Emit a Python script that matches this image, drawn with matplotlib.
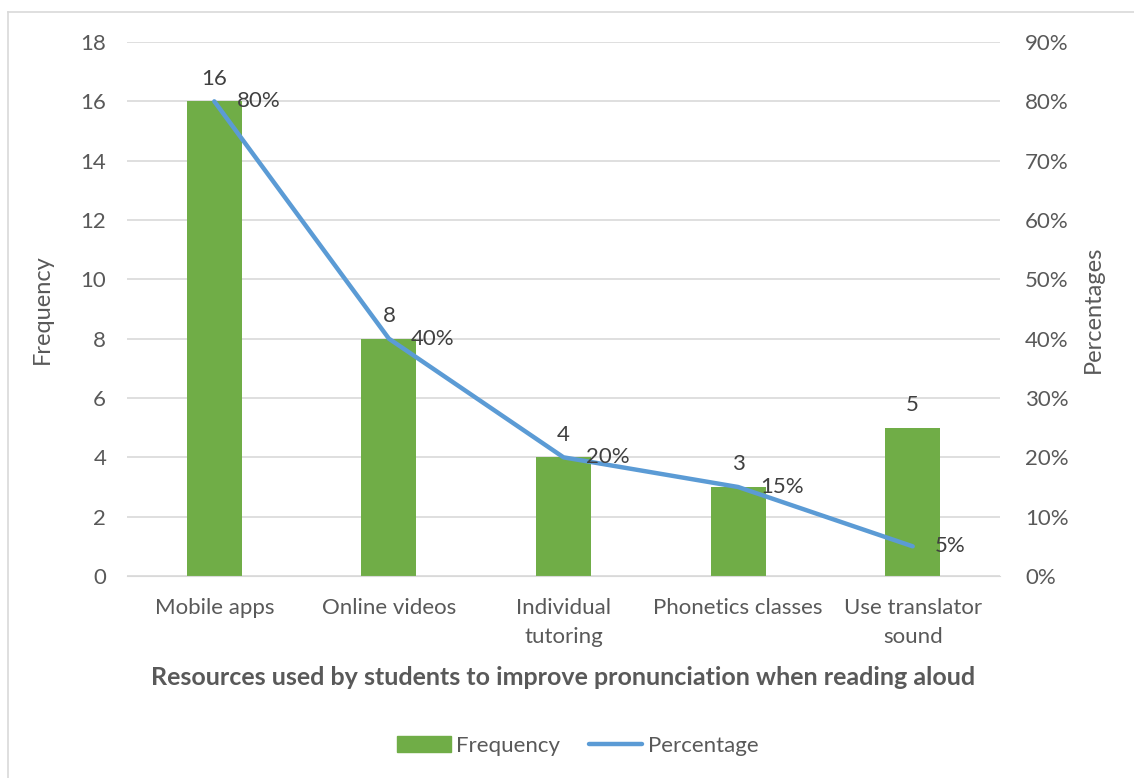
import matplotlib.pyplot as plt
import numpy as np
from matplotlib.lines import Line2D

# chart data
categories = ['Mobile apps', 'Online videos', 'Individual\ntutoring', 'Phonetics classes', 'Use translator\nsound']
frequency = [16, 8, 4, 3, 5]
percentage = [80, 40, 20, 15, 5]

plt.rcParams['font.family'] = ['Lato', 'DejaVu Sans']
text_col = '#595959'
bar_col = '#70ad47'
line_col = '#5b9bd5'
grid_col = '#d9d9d9'

fig = plt.figure(figsize=(11.34, 7.78), dpi=100)
ax = fig.add_axes([127/1134, 1 - 576/778, 873/1134, 534/778])
ax2 = ax.twinx()

x = np.arange(len(categories))
ax.bar(x, frequency, width=0.315, color=bar_col, zorder=2)
ax2.plot(x, percentage, color=line_col, lw=3.2, solid_capstyle='round', zorder=3)

ax.set_xlim(-0.5, len(categories) - 0.5)
ax.set_ylim(0, 18)
ax.set_yticks(range(0, 19, 2))
ax2.set_ylim(0, 90)
ax2.set_yticks(range(0, 91, 10))
ax2.set_yticklabels([f'{v}%' for v in range(0, 91, 10)])

ax.set_xticks(x)
ax.set_xticklabels(categories, linespacing=1.55)

for a in (ax, ax2):
    for s in a.spines.values():
        s.set_visible(False)
    a.tick_params(length=0, colors=text_col, labelsize=16)
ax.tick_params(axis='y', pad=15)
ax2.tick_params(axis='y', pad=18)
ax.tick_params(axis='x', pad=16)
ax.grid(axis='y', color=grid_col, lw=1.2, zorder=0)
ax.set_axisbelow(True)
ax.spines['bottom'].set_visible(True)
ax.spines['bottom'].set_color(grid_col)

# data labels
for xi, f in zip(x, frequency):
    ax.annotate(str(f), (xi, f), xytext=(0, 9), textcoords='offset points',
                ha='center', va='bottom', fontsize=16, color='#404040')
for xi, p in zip(x, percentage):
    ax2.annotate(f'{p}%', (xi, p), xytext=(16, 0), textcoords='offset points',
                 ha='left', va='center', fontsize=16, color='#404040')

ax.set_ylabel('Frequency', fontsize=17, color=text_col, labelpad=20)
ax2.set_ylabel('Percentages', fontsize=17, color=text_col, labelpad=10)
ax.set_xlabel('Resources used by students to improve pronunciation when reading aloud',
              fontsize=18, fontweight='bold', color=text_col, labelpad=14)

handles = [plt.Rectangle((0, 0), 1, 1, color=bar_col),
           Line2D([0], [0], color=line_col, lw=3.2, solid_capstyle='round')]
fig.legend(handles, ['Frequency', 'Percentage'], loc='center',
           bbox_to_anchor=(578/1134, 1 - 746/778), ncol=2, frameon=False,
           fontsize=16, labelcolor=text_col, handlelength=2.4, columnspacing=1.3,
           handletextpad=0.25)

# outer chart border
fig.add_artist(Line2D([8/1134, 8/1134], [0, 1 - 12/778], color='#d9d9d9', lw=1.2))
fig.add_artist(Line2D([8/1134, 1], [1 - 12/778, 1 - 12/778], color='#d9d9d9', lw=1.2))

fig.savefig('out.png', dpi=100)
